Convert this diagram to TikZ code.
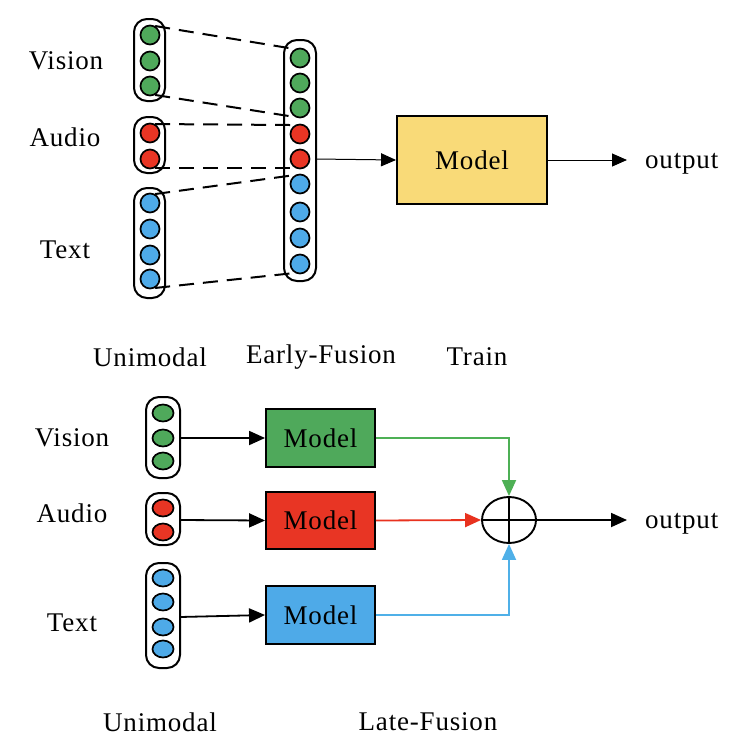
\documentclass[tikz,border=0pt]{standalone}
\usepackage{fontspec}
\setmainfont{Liberation Serif}[LetterSpace=3]
\usetikzlibrary{arrows.meta,shapes.geometric}
\definecolor{cgreen}{HTML}{4FA95B}
\definecolor{cred}{HTML}{E83524}
\definecolor{cblue}{HTML}{4EAAE8}
\definecolor{cyellow}{HTML}{F9DA78}
\definecolor{lgreen}{HTML}{4EB055}
\definecolor{lred}{HTML}{E8321F}
\definecolor{lblue}{HTML}{4FB0E8}
\tikzset{
  lbl/.style={font=\fontsize{27}{31}\selectfont, inner sep=0pt},
  dot/.style={circle, draw=black, line width=1.7pt, minimum size=19pt, inner sep=0pt},
  edot/.style={ellipse, draw=black, line width=1.7pt, minimum width=21pt, minimum height=17pt, inner sep=0pt},
  capsule/.style={draw=black, line width=2pt, rounded corners=13pt, fill=white},
  modelbox/.style={draw=black, line width=1.9pt, inner sep=0pt, font=\fontsize{27}{31}\selectfont},
  arr/.style={-{Triangle[length=16pt,width=14pt]}, line width=1.8pt},
  dsh/.style={dash pattern=on 15pt off 9pt, line width=2pt},
}
\begin{document}
\begin{tikzpicture}[x=1pt,y=-1pt]
\useasboundingbox (0,0) rectangle (752,756);
% ---------- Top: early fusion ----------
\draw[capsule] (134,19) rectangle (165,101);
\draw[capsule] (134,117) rectangle (165,173);
\draw[capsule] (134,188) rectangle (165,298);
\draw[capsule] (284,40) rectangle (316,281);
\node[dot, fill=cgreen] (v1) at (150,35) {};
\node[dot, fill=cgreen] (v2) at (150,61) {};
\node[dot, fill=cgreen] (v3) at (150,86) {};
\node[dot, fill=cred] (a1) at (150,133) {};
\node[dot, fill=cred] (a2) at (150,159) {};
\node[dot, fill=cblue] (t1) at (150,203) {};
\node[dot, fill=cblue] (t2) at (150,229) {};
\node[dot, fill=cblue] (t3) at (150,255) {};
\node[dot, fill=cblue] (t4) at (150,279) {};
\node[dot, fill=cgreen] (f1) at (300,58) {};
\node[dot, fill=cgreen] (f2) at (300,83) {};
\node[dot, fill=cgreen] (f3) at (300,108) {};
\node[dot, fill=cred] (f4) at (300,134) {};
\node[dot, fill=cred] (f5) at (300,159) {};
\node[dot, fill=cblue] (f6) at (300,184) {};
\node[dot, fill=cblue] (f7) at (300,212) {};
\node[dot, fill=cblue] (f8) at (300,238) {};
\node[dot, fill=cblue] (f9) at (300,264) {};
\coordinate (fr) at (316,159);
\draw[dsh] (v1.60) -- (f1.120);
\draw[dsh] (v3.-60) -- (f3.-120);
\draw[dsh] (a1.60) -- (f4.120);
\draw[dsh] (a2.-60) -- (f5.-120);
\draw[dsh] (t1.60) -- (f6.120);
\draw[dsh] (t4.-60) -- (f9.-120);
\node[lbl] (lv) at (66,61) {Vision};
\node[lbl] (la) at (65,137) {Audio};
\node[lbl] (lt) at (65,250) {Text};
\node[modelbox, fill=cyellow, minimum width=150pt, minimum height=88pt] (m) at (472,160) {Model};
\draw[-{Triangle[length=15pt,width=13pt]}, line width=1pt] (fr) -- (m.west);
\coordinate (o1) at (627,160);
\draw[-{Triangle[length=15pt,width=13pt]}, line width=1pt] (m.east) -- (o1);
\node[lbl, anchor=base west] (out1) at (645,168) {output};
\node[lbl] (u1) at (150,357) {Unimodal};
\node[lbl] (ef) at (321,357) {Early-Fusion};
\node[lbl] (tr) at (477,357) {Train};
% ---------- Bottom: late fusion ----------
\draw[capsule] (146,397) rectangle (180,478);
\draw[capsule] (146,493) rectangle (180,545);
\draw[capsule] (146,563) rectangle (180,668);
\node[edot, fill=cgreen] (bv1) at (163,413) {};
\node[edot, fill=cgreen] (bv2) at (163,438) {};
\node[edot, fill=cgreen] (bv3) at (163,461) {};
\node[edot, fill=cred] (ba1) at (163,508) {};
\node[edot, fill=cred] (ba2) at (163,532) {};
\node[edot, fill=cblue] (bt1) at (163,578) {};
\node[edot, fill=cblue] (bt2) at (163,602) {};
\node[edot, fill=cblue] (bt3) at (163,627) {};
\node[edot, fill=cblue] (bt4) at (163,649) {};
\coordinate (cv) at (180,438);
\coordinate (ca) at (180,520);
\coordinate (ct) at (180,617);
\node[modelbox, fill=cgreen, minimum width=109pt, minimum height=58pt] (mg) at (320.5,438) {Model};
\node[modelbox, fill=cred, minimum width=109pt, minimum height=57pt] (mr) at (320.5,520.5) {Model};
\node[modelbox, fill=cblue, minimum width=109pt, minimum height=58pt] (mb) at (320.5,615) {Model};
\draw[arr] (cv) -- (mg.west);
\draw[arr] (ca) -- (mr.west);
\draw[arr] (ct) -- (mb.west);
\node[ellipse, draw=black, line width=1.9pt, minimum width=54pt, minimum height=46pt, inner sep=0pt] (sum) at (509,520) {};
\draw[line width=1.9pt] (sum.north) -- (sum.south) (sum.west) -- (sum.east);
\draw[arr, draw=lgreen, -{Triangle[length=16pt,width=14pt,fill=lgreen]}] (mg.east) -| (sum.north);
\draw[arr, draw=lred, -{Triangle[length=16pt,width=14pt,fill=lred]}] (mr.east) -- (sum.west);
\draw[arr, draw=lblue, -{Triangle[length=16pt,width=14pt,fill=lblue]}] (mb.east) -| (sum.south);
\coordinate (o2) at (627,520);
\draw[arr] (sum.east) -- (o2);
\node[lbl, anchor=base west] (out2) at (645,528) {output};
\node[lbl] (bl1) at (72,438) {Vision};
\node[lbl] (bl2) at (72,513) {Audio};
\node[lbl] (bl3) at (72,623) {Text};
\node[lbl] (u2) at (160,722) {Unimodal};
\node[lbl] (lf) at (428,722) {Late-Fusion};
\end{tikzpicture}
\end{document}
